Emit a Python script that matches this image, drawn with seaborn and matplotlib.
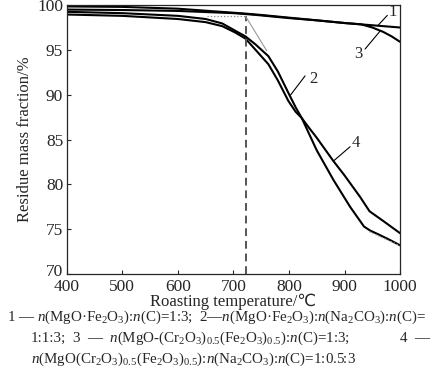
import matplotlib
matplotlib.use("Agg")
import matplotlib.pyplot as plt
import matplotlib.transforms as mtransforms
import seaborn as sns
import pandas as pd

# curve data
t1 = [400, 500, 600, 700, 722, 750, 800, 850, 900, 950, 1000]
m1 = [99.85, 99.8, 99.6, 99.15, 99.05, 98.9, 98.6, 98.3, 98.0, 97.75, 97.5]

t3 = [400, 500, 600, 700, 722, 750, 800, 850, 900, 930, 950, 970, 985, 1000]
m3 = [99.5, 99.45, 99.35, 99.1, 99.0, 98.85, 98.55, 98.3, 98.0, 97.85, 97.5, 97.0, 96.5, 95.9]

t2 = [400, 500, 600, 650, 680, 703, 722, 740, 763, 780, 799, 812, 823, 835,
      850, 880, 910, 935, 946, 960, 980, 1000]
m2 = [99.25, 99.1, 98.8, 98.45, 97.95, 97.15, 96.5, 95.6, 94.3, 92.6, 90.2, 88.6, 87.4, 85.8,
      83.8, 80.5, 77.5, 75.3, 74.85, 74.45, 73.85, 73.2]

t4 = [400, 500, 600, 650, 680, 703, 722, 740, 763, 780, 799, 812, 823, 835,
      850, 865, 880, 900, 928, 945, 970, 1000]
m4 = [98.95, 98.8, 98.45, 98.1, 97.65, 96.95, 96.25, 95.0, 93.4, 91.6, 89.3, 88.1, 87.4, 86.4,
      85.2, 83.9, 82.6, 81.0, 78.6, 77.0, 75.9, 74.55]

onset_t = 722
onset_m = 98.75

sns.set_style("ticks")
plt.rcParams["font.family"] = ["Liberation Serif", "DejaVu Sans"]
plt.rcParams["mathtext.fontset"] = "custom"
plt.rcParams["mathtext.rm"] = "Liberation Serif"
plt.rcParams["mathtext.it"] = "Liberation Serif:italic"

fig = plt.figure(figsize=(4.33, 3.92), dpi=100)
ax = fig.add_axes([0.154, 0.301, 0.770, 0.686])

for t, m in [(t1, m1), (t3, m3), (t2, m2), (t4, m4)]:
    df = pd.DataFrame({"T": t, "m": m})
    sns.lineplot(data=df, x="T", y="m", ax=ax, color="black", linewidth=1.5,
                 sort=False, estimator=None)

# onset construction
ax.plot([onset_t, onset_t], [70, onset_m], color="#555555", linestyle=(0, (4, 2.5)), linewidth=1.4)
ax.plot([652, onset_t], [onset_m, onset_m], color="#888888", linestyle=":", linewidth=0.9)
ax.plot([onset_t, 760], [onset_m, 94.9], color="#999999", linewidth=0.8)
ax.plot([945, 1000], [74.7, 73.15], color="#999999", linestyle=":", linewidth=0.9)

# curve labels with leader lines
labels = [("1", 960, 97.72, 977, 98.85, 987, 99.2),
          ("3", 964, 97.1, 937, 95.1, 925, 94.6),
          ("2", 802, 89.9, 829, 92.1, 844, 91.8),
          ("4", 880, 82.6, 910, 84.2, 920, 84.6)]
for s, x0, y0, x1, y1, xt, yt in labels:
    ax.plot([x0, x1], [y0, y1], color="black", linewidth=0.8)
    ax.text(xt, yt, s, fontsize=12, ha="center", va="center")

ax.set_xlim(400, 1000)
ax.set_ylim(70, 100)
ax.set_xticks(range(400, 1001, 100))
ax.set_yticks(range(70, 101, 5))
ax.tick_params(direction="in", length=3, width=0.8, labelsize=12.5, pad=2.5)
ax.tick_params(axis="x", pad=3.5)
for sp in ax.spines.values():
    sp.set_visible(True)
    sp.set_linewidth(0.9)
ax.set_xlabel("Roasting temperature/℃", fontsize=12, labelpad=-1)
ax.set_ylabel("Residue mass fraction/%", fontsize=12, labelpad=3)

# lift the bottom y label a little, as in the original, so it clears "400"
lab70 = ax.yaxis.get_major_ticks()[0].label1
lab70.set_transform(lab70.get_transform() +
                    mtransforms.ScaledTranslation(0, 3 / 72, fig.dpi_scale_trans))

cap = 10.8
fig.text(7 / 433, 1 - 317 / 392,
         r"1 — $n$(MgO·Fe$_2$O$_3$):$n$(C)=1:3;  2—$n$(MgO·Fe$_2$O$_3$):$n$(Na$_2$CO$_3$):$n$(C)=",
         fontsize=cap, va="center", ha="left")
fig.text(31 / 433, 1 - 338 / 392, "1:1:3;", fontsize=cap, va="center", ha="left")
fig.text(72 / 433, 1 - 338 / 392,
         r"3  —  $n$(MgO-(Cr$_2$O$_3$)$_{0.5}$(Fe$_2$O$_3$)$_{0.5}$):$n$(C)=1:3;",
         fontsize=cap, va="center", ha="left")
fig.text(430 / 433, 1 - 338 / 392, "4  —", fontsize=cap, va="center", ha="right")
fig.text(31 / 433, 1 - 359 / 392,
         r"$n$(MgO(Cr$_2$O$_3$)$_{0.5}$(Fe$_2$O$_3$)$_{0.5}$):$n$(Na$_2$CO$_3$):$n$(C)=1:0.5:3",
         fontsize=cap, va="center", ha="left")

fig.savefig("out.png", dpi=100)
